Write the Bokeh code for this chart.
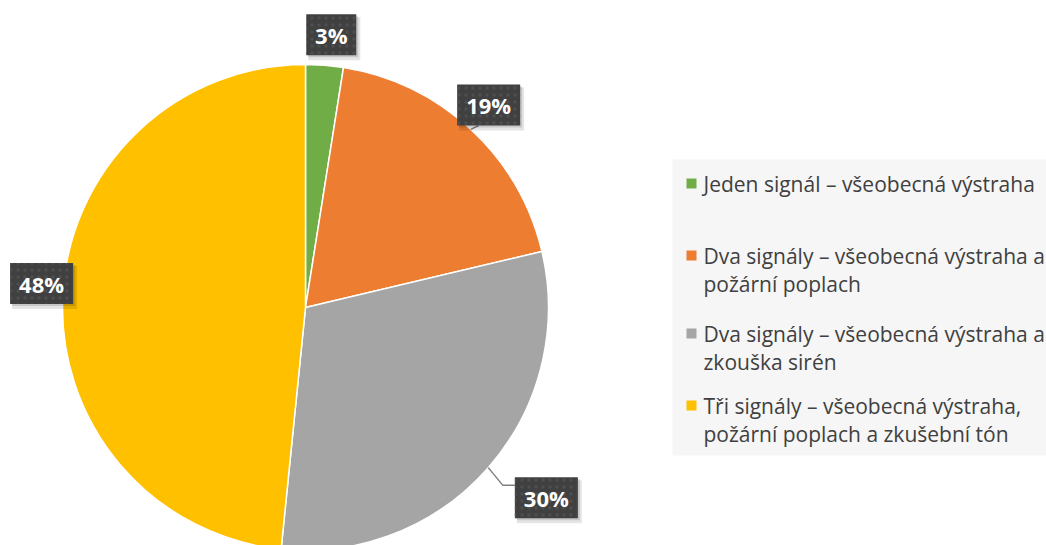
import textwrap
import numpy as np
from bokeh.plotting import figure
from bokeh.models import Range1d, ColumnDataSource
from bokeh.core.properties import value
from bokeh.embed import file_html
from bokeh.resources import INLINE

# ---- data ----
categories = [
    "Jeden signál – všeobecná výstraha",
    "Dva signály – všeobecná výstraha a požární poplach",
    "Dva signály – všeobecná výstraha a zkouška sirén",
    "Tři signály – všeobecná výstraha, požární poplach a zkušební tón",
]
shares = [2.5, 18.8, 30.3, 48.4]
labels = ["3%", "19%", "30%", "48%"]
colors = ["#70AD47", "#ED7D31", "#A5A5A5", "#FFC000"]

# ---- layout (pixel based) ----
W, H = 1046, 545


def X(px):
    return px


def Y(py):
    return H - py


CX, CY, R = X(305), Y(307), 243

p = figure(width=W, height=H, x_range=Range1d(0, W), y_range=Range1d(0, H),
           output_backend="svg", toolbar_location=None,
           x_axis_type=None, y_axis_type=None, min_border=0)
p.grid.visible = False
p.outline_line_color = None
p.background_fill_color = "white"
p.border_fill_color = "white"

# ---- pie ----
vals = np.array(shares, dtype=float)
frac = vals / vals.sum()
cum = np.concatenate([[0.0], np.cumsum(frac)])
start = np.pi / 2 - cum[:-1] * 2 * np.pi
end = np.pi / 2 - cum[1:] * 2 * np.pi
src = ColumnDataSource(dict(x=[CX] * len(vals), y=[CY] * len(vals),
                            start=start, end=end, color=colors, cat=categories))
p.wedge(x="x", y="y", radius=R, start_angle="start", end_angle="end",
        direction="clock", fill_color="color", line_color="white",
        line_width=1.5, source=src)

# ---- data labels ----
mid_deg = (cum[:-1] + cum[1:]) / 2 * 360.0  # clockwise from top
label_dist = [274, 273, 307, 265]
label_shift = [0.9, -0.7, -2.9, 2.3]
lab_ang = np.radians(mid_deg + np.array(label_shift))
lx = CX + np.array(label_dist) * np.sin(lab_ang)
ly = CY + np.array(label_dist) * np.cos(lab_ang)
bw = np.array([24 + 13 * len(s) for s in labels], dtype=float)
bh = 41.0

# leader lines (19% and 30%)
mid_rad = np.radians(mid_deg)
ex = CX + R * np.sin(mid_rad)
ey = CY + R * np.cos(mid_rad)
p.line([ex[1], lx[1] - 10], [ey[1], ly[1] - bh / 2], line_color="#808080", line_width=1.5)
p.line([ex[2], lx[2] - bw[2] / 2 - 12, lx[2] - bw[2] / 2],
       [ey[2], ly[2] + bh / 2 - 8, ly[2] + bh / 2 - 8],
       line_color="#808080", line_width=1.5)

# shadows
p.rect(x=lx + 3, y=ly - 4, width=bw + 2, height=bh + 2, fill_color="#000000",
       fill_alpha=0.10, line_color=None)
p.rect(x=lx + 2, y=ly - 2, width=bw, height=bh, fill_color="#000000",
       fill_alpha=0.13, line_color=None)
# boxes
p.rect(x=lx, y=ly, width=bw, height=bh, fill_color="#404040", line_color=None,
       hatch_pattern="dot", hatch_color="#4e4e4e", hatch_scale=7, hatch_weight=1.5)
p.text(x=lx, y=ly, text=labels, text_color="white", text_font=value("Open Sans"),
       text_font_style="bold", text_font_size="22px", text_align="center",
       text_baseline="middle")

# ---- legend ----
p.quad(left=X(672), right=W, top=Y(159), bottom=Y(455),
       fill_color="#f6f6f6", line_color=None)
legend_first_y = [183, 255, 333, 405]
line_gap = 28.5
sq_x, tx = X(691), X(703)
txs, tys, tts = [], [], []
for i, cat in enumerate(categories):
    lines = textwrap.wrap(cat, width=34)
    for j, ln in enumerate(lines):
        txs.append(tx)
        tys.append(Y(legend_first_y[i] + j * line_gap))
        tts.append(ln)
p.rect(x=[sq_x] * 4, y=[Y(v) for v in legend_first_y], width=10, height=10,
       fill_color=colors, line_color=None)
p.text(x=txs, y=tys, text=tts, text_color="#404040", text_font=value("Open Sans"),
       text_font_size="21px", text_align="left", text_baseline="middle")

open("out.html", "w").write(file_html(p, INLINE))
